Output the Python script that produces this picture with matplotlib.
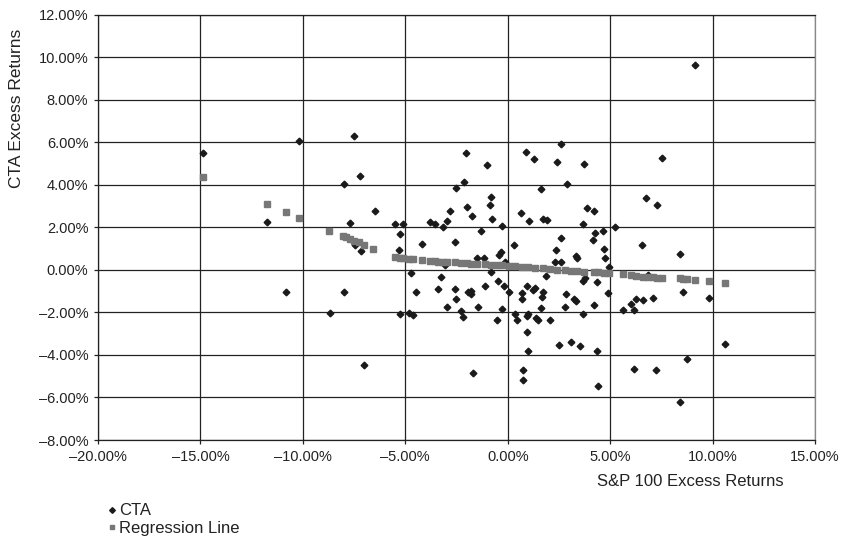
import matplotlib as mpl
mpl.use("Agg")
import matplotlib.pyplot as plt
from matplotlib.ticker import FuncFormatter, MultipleLocator

mpl.rcParams["font.family"] = ["Liberation Sans", "DejaVu Sans"]

# CTA excess returns vs S&P 100 excess returns (percent)
cta_x = [
    -14.88, -10.17, -7.50, -7.22, -8.00, -6.50, -11.74, -7.69, -7.45, -7.16,
    -5.50, -5.09, -5.25, -5.32, -4.20, -4.73, -3.24, -3.79, -3.55, -3.16,
    -2.96, -2.83, -2.56, -2.51, -2.13, -2.05, -1.99, -3.07, -10.80, -8.67,
    -8.00, -7.00, -5.25, -4.83, -4.60, -4.49, -3.39, -2.56, -2.51, -2.95,
    -2.28, -2.17, -1.94, -1.80, -1.78, -1.01, -0.81, -0.86, -1.76, -0.78,
    -1.29, -1.51, -1.17, -0.81, -1.11, -1.46, -1.71, 2.59, 0.91, 1.27,
    2.39, 3.72, 2.88, 1.61, 3.85, 4.22, 0.63, 1.05, 1.74, 1.93,
    3.66, -0.26, 4.26, 2.60, 4.15, 0.31, 2.37, -0.31, -0.44, 3.35,
    3.40, 2.32, 2.60, -0.15, -0.47, -0.18, 0.05, 0.93, 1.87, 0.71,
    0.70, 1.22, 1.35, 1.74, 1.69, 1.61, 3.76, 3.69, 2.84, 3.23,
    3.33, 2.78, 4.22, 4.37, -0.29, -0.51, 0.34, 0.44, 0.98, 0.94,
    1.38, 1.46, 2.05, 3.66, 0.93, 2.49, 3.10, 3.51, 1.00, 4.34,
    0.76, 0.76, 4.39, 9.15, 7.54, 6.75, 7.30, 5.23, 6.57, 8.39,
    4.67, 4.70, 4.73, 4.93, 4.88, 5.64, 6.00, 6.15, 6.27, 6.62,
    7.09, 6.86, 8.57, 9.82, 10.60, 8.76, 6.18, 7.22, 8.40,
]
cta_y = [
    5.48, 6.05, 6.28, 4.43, 4.04, 2.79, 2.24, 2.19, 1.19, 0.89,
    2.16, 2.16, 1.69, 0.94, 1.20, -0.14, -0.35, 2.24, 2.16, 2.00,
    2.29, 2.79, 1.30, 3.86, 4.14, 5.48, 2.94, 0.24, -1.05, -2.04,
    -1.05, -4.47, -2.07, -2.04, -2.13, -1.05, -0.91, -0.91, -1.35, -1.76,
    -1.93, -2.20, -1.03, -0.99, -1.12, 4.94, 3.45, 3.06, 2.52, 2.41,
    1.83, 0.58, 0.55, -0.08, -0.75, -1.73, -4.86, 5.92, 5.53, 5.20,
    5.06, 4.97, 4.04, 3.78, 2.92, 2.79, 2.68, 2.29, 2.40, 2.36,
    2.18, 2.04, 1.74, 1.52, 1.42, 1.16, 0.92, 0.85, 0.71, 0.67,
    0.56, 0.36, 0.39, 0.36, -0.50, -0.77, -1.02, -0.74, -0.31, -1.11,
    -1.36, -0.94, -0.83, -1.02, -1.29, -1.77, -0.39, -0.50, -1.13, -1.38,
    -1.46, -1.73, -1.63, -0.58, -1.85, -2.38, -2.07, -2.38, -2.07, -2.18,
    -2.26, -2.38, -2.38, -2.07, -2.93, -3.51, -3.37, -3.56, -3.83, -3.83,
    -4.73, -5.19, -5.44, 9.65, 5.27, 3.40, 3.06, 2.00, 1.16, 0.73,
    1.81, 0.97, 0.58, 0.12, -1.08, -1.87, -1.60, -1.87, -1.35, -1.43,
    -1.30, -0.24, -1.03, -1.32, -3.48, -4.20, -4.65, -4.69, -6.19,
]

# fitted values
reg_x = [
    -14.88, -11.76, -10.82, -10.17, -8.70, -8.02, -7.89, -7.69, -7.48, -7.27,
    -7.01, -6.56, -5.50, -5.25, -5.09, -4.83, -4.60, -4.20, -3.79, -3.55,
    -3.39, -3.16, -2.96, -2.56, -2.28, -2.00, -1.80, -1.50, -1.11, -0.81,
    -0.50, -0.26, 0.05, 0.34, 0.70, 1.00, 1.35, 1.70, 2.05, 2.40,
    2.80, 3.10, 3.40, 3.70, 4.20, 4.40, 4.70, 4.93, 5.64, 6.00,
    6.27, 6.62, 6.86, 7.09, 7.30, 7.54, 8.40, 8.57, 8.76, 9.15,
    9.82, 10.63,
]
reg_y = [
    4.35, 3.10, 2.71, 2.44, 1.85, 1.61, 1.56, 1.45, 1.38, 1.30,
    1.19, 1.00, 0.60, 0.57, 0.55, 0.52, 0.49, 0.47, 0.42, 0.40,
    0.39, 0.38, 0.37, 0.35, 0.33, 0.31, 0.30, 0.28, 0.26, 0.24,
    0.22, 0.21, 0.19, 0.17, 0.14, 0.12, 0.10, 0.07, 0.04, 0.01,
    -0.02, -0.04, -0.06, -0.08, -0.11, -0.12, -0.14, -0.16, -0.19, -0.24,
    -0.28, -0.32, -0.34, -0.35, -0.36, -0.37, -0.40, -0.42, -0.45, -0.49,
    -0.52, -0.60,
]


def pct(v, pos):
    s = f"{abs(v):.2f}%"
    return ("\u2013" + s) if v < -1e-9 else s


fig = plt.figure(figsize=(8.52, 5.44), dpi=100)
ax = fig.add_axes([98 / 852, 1 - 440 / 544, (815 - 98) / 852, (440 - 14.7) / 544])

ax.plot(cta_x, cta_y, linestyle="none", marker="D", ms=3.4, color="#1a1a1a",
        mec="#1a1a1a", label="CTA", zorder=3)
ax.plot(reg_x, reg_y, linestyle="none", marker="s", ms=4.0, color="#777777",
        mec="#777777", label="Regression Line", zorder=4)

ax.set_xlim(-20, 15)
ax.set_ylim(-8, 12)
ax.xaxis.set_major_locator(MultipleLocator(5))
ax.yaxis.set_major_locator(MultipleLocator(2))
ax.xaxis.set_major_formatter(FuncFormatter(pct))
ax.yaxis.set_major_formatter(FuncFormatter(pct))
ax.grid(True, color="#222222", linewidth=0.9)
ax.set_axisbelow(True)
for sp in ax.spines.values():
    sp.set_color("#222222")
    sp.set_linewidth(0.9)
ax.spines["right"].set_color("#888888")
ax.tick_params(direction="out", length=3, width=0.9, pad=4, labelsize=10.5,
               colors="#222222")

fig.text(597 / 852, 1 - 482 / 544, "S&P 100 Excess Returns", ha="left",
         va="center", fontsize=12, color="#222222")
fig.text(16.5 / 852, 1 - 108 / 544, "CTA Excess Returns", rotation=90,
         ha="center", va="center", fontsize=12.5, color="#222222")

fig.legend(loc="upper left", bbox_to_anchor=(100 / 852, 1 - 495 / 544),
           frameon=False, handlelength=0.4, handletextpad=0.25,
           labelspacing=0.15, borderpad=0, fontsize=12, markerscale=0.85,
           labelcolor="#222222")

fig.savefig("out.png", dpi=100)
